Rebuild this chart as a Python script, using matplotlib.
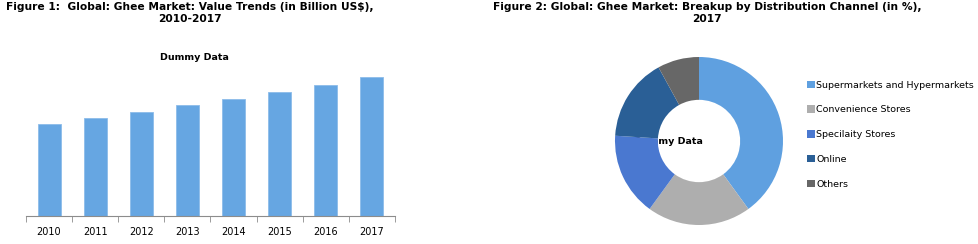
import matplotlib.pyplot as plt

# data
years = ['2010', '2011', '2012', '2013', '2014', '2015', '2016', '2017']
values = [9.2, 9.8, 10.4, 11.1, 11.7, 12.4, 13.1, 13.9]

channels = ['Supermarkets and Hypermarkets', 'Convenience Stores',
            'Specilaity Stores', 'Online', 'Others']
shares = [40, 20, 16, 16, 8]
channel_colors = ['#5FA0E0', '#AEAEAE', '#4A78D0', '#2A5F96', '#676767']

W, H = 979, 244
fig = plt.figure(figsize=(W / 100, H / 100), dpi=100)
fig.patch.set_facecolor('white')


def box(x0, y0, x1, y1):
    # pixel box (top-left origin) -> figure fraction rect
    return [x0 / W, 1 - y1 / H, (x1 - x0) / W, (y1 - y0) / H]


title_kw = dict(fontsize=7.7, fontweight='bold', ha='center', va='top',
                family='DejaVu Sans', linespacing=1.3)

# Figure 1: bar chart
fig.text(190 / W, 1 - 2 / H,
         'Figure 1:  Global: Ghee Market: Value Trends (in Billion US$),\n2010-2017',
         **title_kw)
fig.text(194 / W, 1 - 58 / H, 'Dummy Data', fontsize=6.8, fontweight='bold',
         ha='center', va='center')

ax = fig.add_axes(box(26, 70, 395, 216))
x = range(len(years))
ax.bar(x, values, width=0.5, color='#66A6E2', edgecolor='#8CBCEA', linewidth=0.6)
ax.set_xlim(-0.5, len(years) - 0.5)
ax.set_ylim(0, 14.6)
for s in ['top', 'right', 'left']:
    ax.spines[s].set_visible(False)
ax.spines['bottom'].set_color('#8C8C8C')
ax.set_yticks([])
ax.set_xticks(list(x))
ax.set_xticklabels(years, fontsize=7)
ax.tick_params(axis='x', which='major', length=0, pad=8)
ax.set_xticks([i - 0.5 for i in range(len(years) + 1)], minor=True)
ax.tick_params(axis='x', which='minor', length=4, color='#8C8C8C')

# Figure 2: donut chart
fig.text(707 / W, 1 - 2 / H,
         'Figure 2: Global: Ghee Market: Breakup by Distribution Channel (in %),\n2017',
         **title_kw)

pax = fig.add_axes(box(615, 57, 783, 225))
# title text sits under the wedges, so only its tail shows in the hole
pax.text(-0.36, 0.0, 'Dummy Data', fontsize=6.8, fontweight='bold',
         ha='center', va='center', zorder=0)
wedges, _ = pax.pie(shares, colors=channel_colors, startangle=90,
                    counterclock=False, radius=1,
                    wedgeprops=dict(width=0.51, edgecolor='none'))
for w in wedges:
    w.set_zorder(2)
pax.set_xlim(-1, 1)
pax.set_ylim(-1, 1)
pax.set_aspect('equal')
pax.axis('off')

leg = fig.legend(wedges, channels, loc='upper left',
                 bbox_to_anchor=(799 / W, 1 - 72 / H), frameon=False,
                 fontsize=6.8, handlelength=0.8, handleheight=0.8,
                 handletextpad=0.15, labelspacing=1.68)

fig.savefig('out.png', dpi=100, facecolor='white')
